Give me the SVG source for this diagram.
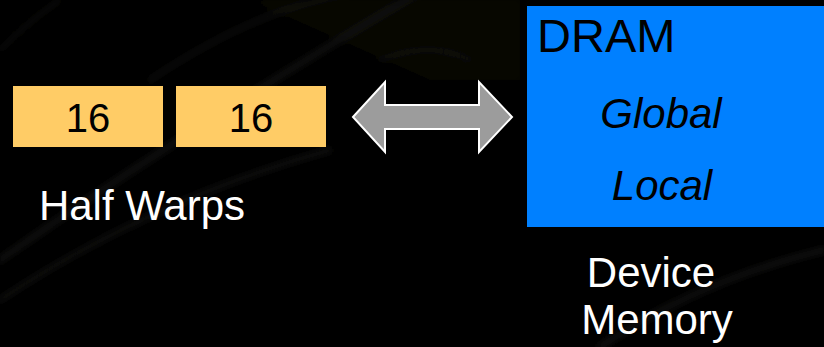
<svg xmlns="http://www.w3.org/2000/svg" width="824" height="347" viewBox="0 0 824 347">
  <defs>
    <style>
      .warp { fill: #ffcc66; }
      .num { font-family: "Liberation Sans", Arial, sans-serif; font-size: 40px; fill: #000; text-anchor: middle; }
      .label { font-family: "Liberation Sans", Arial, sans-serif; font-size: 42px; fill: #fff; text-anchor: middle; }
      .inner { font-family: "Liberation Sans", Arial, sans-serif; font-size: 42px; font-style: italic; fill: #000; text-anchor: middle; }
      .streak { fill: none; stroke: #1e1e1a; stroke-linecap: round; }
    </style>
    <filter id="soft" x="-10%" y="-10%" width="120%" height="120%">
      <feGaussianBlur stdDeviation="3"/>
    </filter>
  </defs>

  <!-- dark backdrop with faint sweeping streaks -->
  <rect x="0" y="0" width="824" height="347" fill="#000"/>
  <g id="backdrop" filter="url(#soft)" opacity="0.6">
    <path d="M250,0 L520,0 L520,80 L430,80 Z" fill="#0a0a06"/>
    <path class="streak" stroke-width="4" d="M150,80 Q300,-20 420,-10"/>
    <path class="streak" stroke-width="6" d="M0,260 Q200,120 440,-20"/>
    <path class="streak" stroke-width="5" d="M0,300 Q150,200 330,150"/>
    <path class="streak" stroke-width="3" d="M0,50 Q30,20 60,0"/>
    <path class="streak" stroke-width="6" d="M600,347 Q700,280 824,250"/>
    <path class="streak" stroke-width="3" d="M380,60 Q430,40 470,60"/>
  </g>

  <!-- half-warp blocks -->
  <g id="warp-a">
    <rect class="warp" x="13" y="86" width="150" height="61"/>
    <text class="num" x="88" y="132">16</text>
  </g>
  <g id="warp-b">
    <rect class="warp" x="176" y="86" width="150" height="61"/>
    <text class="num" x="251" y="132">16</text>
  </g>
  <g id="half-warps-label">
    <text class="label" x="142" y="220">Half Warps</text>
  </g>

  <!-- two-way transfer arrow -->
  <g id="connectors">
    <path d="M353,117 L385,82 L385,105 L479,105 L479,82 L512,117 L479,152 L479,129 L385,129 L385,152 Z"
          fill="#9c9c9c" stroke="#fff" stroke-width="2" stroke-linejoin="miter"/>
  </g>

  <!-- device memory block -->
  <g id="dram">
    <rect x="527" y="6" width="300" height="221" fill="#0080ff"/>
    <text x="537" y="52" font-family="'Liberation Sans', Arial, sans-serif" font-size="47" fill="#000">DRAM</text>
    <text class="inner" x="661" y="128">Global</text>
    <text class="inner" x="662" y="200">Local</text>
  </g>
  <g id="device-memory-label">
    <text class="label" x="651" y="287">Device</text>
    <text class="label" x="657" y="334">Memory</text>
  </g>
</svg>
